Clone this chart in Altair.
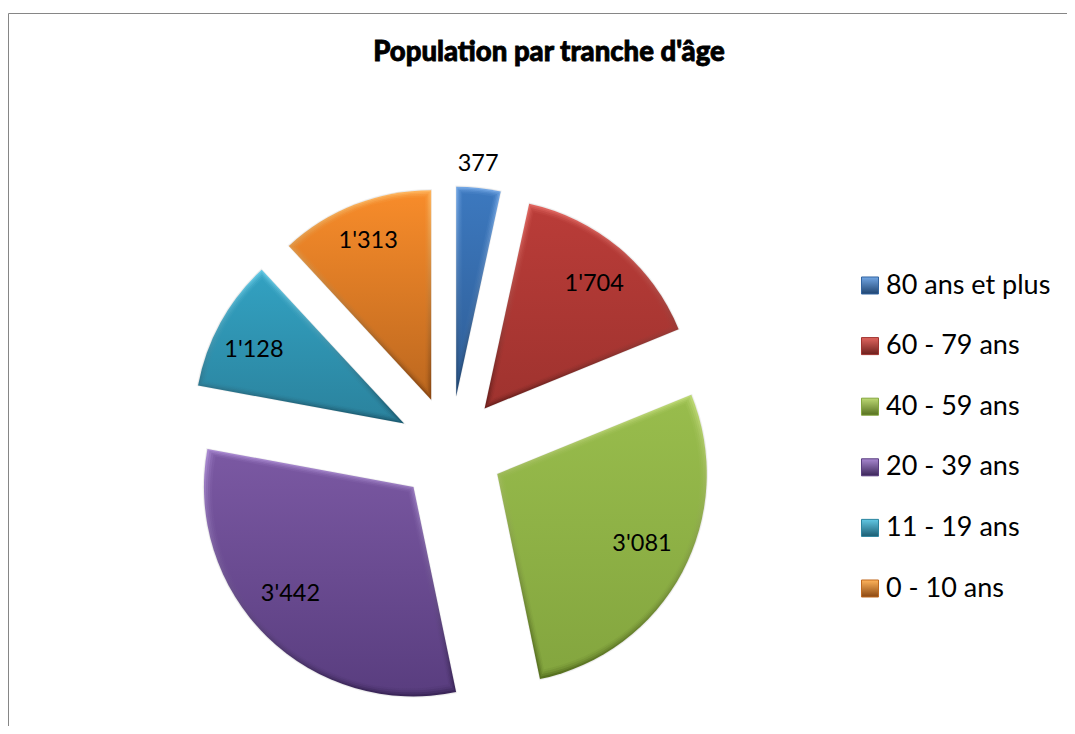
import math
import altair as alt
import pandas as pd

labels = ["80 ans et plus", "60 - 79 ans", "40 - 59 ans", "20 - 39 ans", "11 - 19 ans", "0 - 10 ans"]
values = [377, 1704, 3081, 3442, 1128, 1313]
texts = ["377", "1'704", "3'081", "3'442", "1'128", "1'313"]
fill_top = ["#3c78be", "#b93c38", "#98bc4c", "#7a58a2", "#32a0c0", "#f68b2a"]
fill_bot = ["#3264a0", "#a0332f", "#84a63f", "#5a3e80", "#2b849f", "#c06a20"]
edge_top = ["#72a6e4", "#e0655f", "#bcd873", "#a888d0", "#62c8e4", "#ffb45c"]
edge_bot = ["#1f4470", "#6c1f1c", "#56701f", "#3a2558", "#1b5c72", "#8a4610"]

W, H = 1059, 718
OX, OY = 8, 8
CX, CY = 450.5 - OX, 449 - OY
EXPLODE = 53
R = 209.5
LABEL_R = [233, 166, 161, 163, 167, 171]
LABEL_A = [5.4, 41.3, 116, 229, 296, 338.4]
BEVEL = [(1.5, 0.35), (3, 0.45), (4.5, 0.6), (6, 1.0)]

total = sum(values)
rows = []
acc = 0
for i, v in enumerate(values):
    mid = (acc + v / 2) / total * 2 * math.pi
    half = v / total * math.pi
    ax = CX + EXPLODE * math.sin(mid)
    ay = CY - EXPLODE * math.cos(mid)
    la = math.radians(LABEL_A[i])
    row = dict(label=labels[i], text=texts[i], start=acc, end=acc + v, ax=ax, ay=ay,
               tx=ax + LABEL_R[i] * math.sin(la), ty=ay - LABEL_R[i] * math.cos(la),
               mid=mid, half=half)
    rows.append(row)
    acc += v
df = pd.DataFrame(rows)

XS = alt.Scale(domain=[0, W], range=[0, W])
YS = alt.Scale(domain=[0, H], range=[0, H])
TH = alt.Theta("start:Q", scale=alt.Scale(domain=[0, total], range=[0, 2 * math.pi]))
TH2 = alt.Theta2("end:Q")


def xq(f):
    return alt.X(f, type="quantitative", scale=XS, axis=None)


def yq(f):
    return alt.Y(f, type="quantitative", scale=YS, axis=None)


def grad(a, b):
    return alt.LinearGradient(gradient="linear", x1=0, y1=0, x2=0, y2=1,
                              stops=[alt.GradientStop(offset=0, color=a), alt.GradientStop(offset=1, color=b)])


layers = []
for i in range(len(values)):
    sub = df[df.label == labels[i]]
    enc = dict(x=xq("ax"), y=yq("ay"), theta=TH, theta2=TH2)
    layers.append(alt.Chart(sub).mark_arc(outerRadius=R + 0.5, fill="#000000", fillOpacity=0.04, stroke="#000000",
                                           strokeOpacity=0.06, strokeWidth=1.5).encode(**enc))
    layers.append(alt.Chart(sub).mark_arc(outerRadius=R, fill=grad(edge_top[i], edge_bot[i])).encode(**enc))
    r0 = rows[i]
    for t, op in BEVEL:
        shift = t / math.sin(r0["half"])
        inset = sub.assign(ax=r0["ax"] + shift * math.sin(r0["mid"]), ay=r0["ay"] - shift * math.cos(r0["mid"]))
        layers.append(alt.Chart(inset).mark_arc(outerRadius=R - t - shift, fill=grad(fill_top[i], fill_bot[i]),
                                                 opacity=op).encode(**enc))

frame = pd.DataFrame({"x": [0.5, 0.5], "y": [5.5, 5.5], "x2": [W, 0.5], "y2": [5.5, H]})
layers.append(alt.Chart(frame).mark_rule(color="#868686", strokeWidth=1).encode(x=xq("x"), y=yq("y"), x2="x2:Q", y2="y2:Q"))

layers.append(alt.Chart(df).mark_text(font="Lato", fontSize=23.5, color="#000000", align="center", baseline="middle").encode(
    x=xq("tx"), y=yq("ty"), text="text:N"))

# legend
leg_rows = [dict(label=labels[i], sx=870 - OX, tx=886 - OX, y=285.5 - OY + i * 60.6) for i in range(len(labels))]
leg = pd.DataFrame(leg_rows)
for i in range(len(labels)):
    layers.append(alt.Chart(leg[leg.label == labels[i]]).mark_square(size=290, opacity=1,
                  fill=grad(edge_top[i], edge_bot[i]), stroke=fill_bot[i], strokeWidth=1).encode(x=xq("sx"), y=yq("y")))
layers.append(alt.Chart(leg).mark_text(font="Lato", fontSize=27, color="#000000", align="left", baseline="middle").encode(
    x=xq("tx"), y=yq("y"), text="label:N"))

title_df = pd.DataFrame({"t": ["Population par tranche d'âge"], "x": [549 - OX], "y": [53 - OY]})
layers.append(alt.Chart(title_df).mark_text(font="Lato", fontWeight=900, fontSize=27.5, color="#000000",
                                            align="center", baseline="middle", stroke="#000000", strokeWidth=0.8).encode(
    x=xq("x"), y=yq("y"), text="t:N"))

chart = alt.layer(*layers).properties(width=W, height=H, padding=0, autosize="none", background="#ffffff").configure_view(stroke=None)
chart.save("out.html", embed_options={"renderer": "svg", "actions": False})
